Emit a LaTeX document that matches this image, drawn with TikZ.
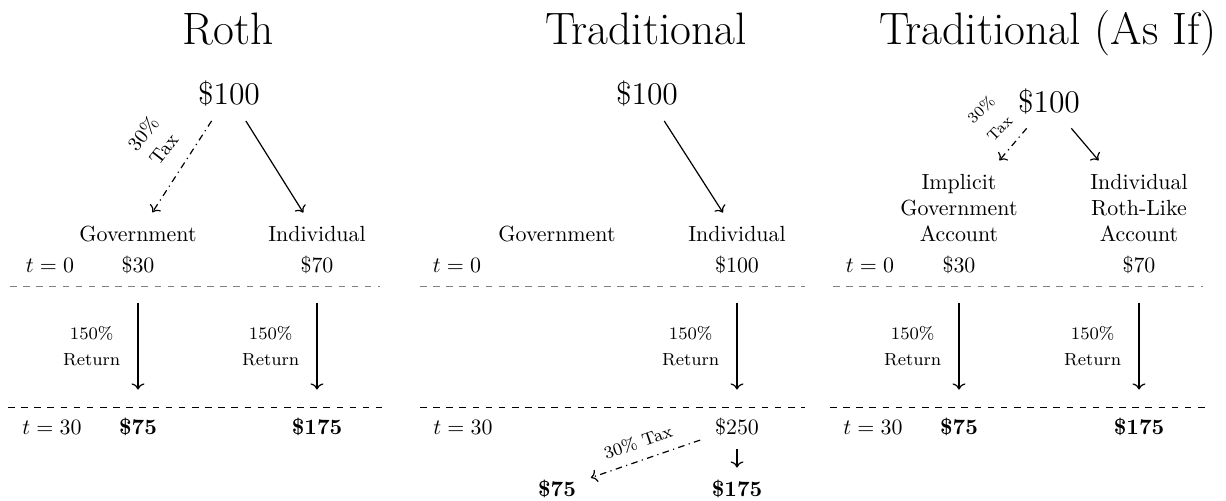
\documentclass[tikz,border=0pt]{standalone}
\usetikzlibrary{arrows.meta}
\begin{document}
\begin{tikzpicture}[x=0.4566pt,y=-0.4566pt,
  title/.style={anchor=base,font=\huge},
  top/.style={anchor=base,font=\Large},
  lab/.style={anchor=base},
  multi/.style={align=center},
  amt/.style={anchor=base},
  flow/.style={->,line width=0.55pt,shorten <=3.5pt,shorten >=3.5pt},
  taxflow/.style={flow,dashdotted},
  growth/.style={->,line width=0.55pt,shorten <=9.4pt,shorten >=9.7pt},
  small/.style={->,line width=0.55pt,shorten <=2.5pt,shorten >=2.4pt},
  retlab/.style={midway,left=4.5pt,align=center,font=\fontsize{8}{12}\selectfont},
  taxlab/.style={align=center,font=\fontsize{9}{12}\selectfont},
  taxlabmid/.style={align=center,font=\fontsize{8}{12}\selectfont},
  taxlabsm/.style={align=center,font=\fontsize{7}{12}\selectfont},
  t0line/.style={dashed,gray,line width=0.45pt},
  t30line/.style={dashed,black,line width=0.4pt}]
\useasboundingbox (0,0) rectangle (1226,501);

% titles
\node[title] (T1) at (228,45) {Roth};
\node[title] (T2) at (646,45) {Traditional};
\node[title] (T3) at (1048,45) {Traditional (As If)};

% ---------- Roth ----------
\node[top] (m1) at (229,105) {\$100};
\node[lab] (g1) at (138,242) {Government};
\node[lab] (i1) at (317,242) {Individual};
\draw[taxflow] (m1) -- (g1);
\draw[flow] (m1) -- (i1);
\node[taxlab,rotate=52] (tx1) at (153,141) {30\%\\Tax};
\node[amt] (z1) at (50,273) {$t=0$};
\node[amt] (a1) at (138,273) {\$30};
\node[amt] (b1) at (317,273) {\$70};
\draw[t0line] (10,287) -- (380,287);
\node[amt] (z1b) at (52,435) {$t=30$};
\node[amt] (c1) at (138,435) {\textbf{\$75}};
\node[amt] (d1) at (317,435) {\textbf{\$175}};
\draw[growth] (a1) -- (c1) node[retlab] {150\%\\Return};
\draw[growth] (b1) -- (d1) node[retlab] {150\%\\Return};
\draw[t30line] (8,407) -- (382,407);

% ---------- Traditional ----------
\node[top] (m2) at (647,105) {\$100};
\node[lab] (g2) at (557,242) {Government};
\node[lab] (i2) at (737,242) {Individual};
\draw[flow] (m2) -- (i2);
\node[amt] (z2) at (457,273) {$t=0$};
\node[amt] (b2) at (737,273) {\$100};
\draw[t0line] (420,287) -- (805,287);
\node[amt] (z2b) at (463,435) {$t=30$};
\node[amt] (d2) at (737,435) {\$250};
\draw[growth] (b2) -- (d2) node[retlab] {150\%\\Return};
\draw[t30line] (420,407) -- (805,407);
\node[amt] (e2) at (557,497) {\textbf{\$75}};
\node[amt] (f2) at (737,497) {\textbf{\$175}};
\draw[taxflow] (d2) -- (e2);
\draw[small] (d2) -- (f2);
\node[taxlabmid,rotate=19] (tx2) at (638,442) {30\% Tax};

% ---------- Traditional (As If) ----------
\node[top] (m3) at (1049,113) {\$100};
\node[multi] (g3) at (959,208) {Implicit\\Government\\Account};
\node[multi] (i3) at (1139,208) {Individual\\Roth-Like\\Account};
\draw[taxflow] (m3) -- (g3);
\draw[flow] (m3) -- (i3);
\node[taxlabsm,rotate=45] (tx3) at (990,119) {30\%\\Tax};
\node[amt] (z3) at (870,273) {$t=0$};
\node[amt] (a3) at (959,273) {\$30};
\node[amt] (b3) at (1139,273) {\$70};
\draw[t0line] (833,287) -- (1203,287);
\node[amt] (z3b) at (873,435) {$t=30$};
\node[amt] (c3) at (959,435) {\textbf{\$75}};
\node[amt] (d3) at (1139,435) {\textbf{\$175}};
\draw[growth] (a3) -- (c3) node[retlab] {150\%\\Return};
\draw[growth] (b3) -- (d3) node[retlab] {150\%\\Return};
\draw[t30line] (830,407) -- (1205,407);
\end{tikzpicture}
\end{document}
